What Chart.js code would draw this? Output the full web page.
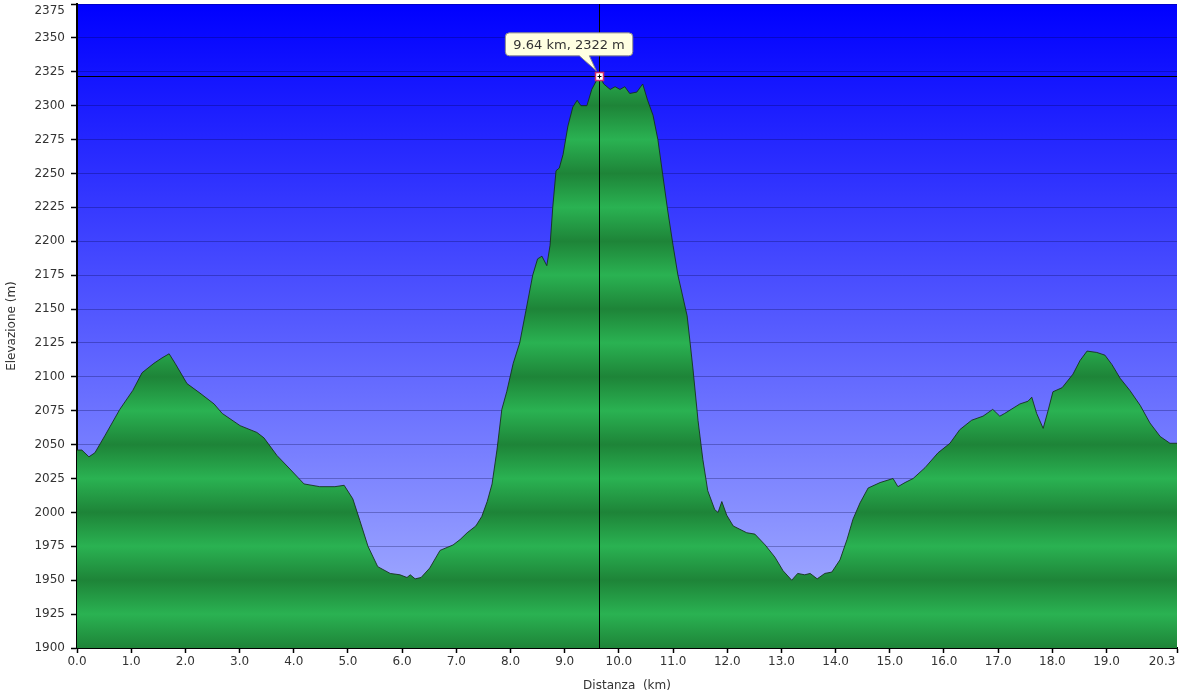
<!DOCTYPE html>
<html lang="it">
<head>
  <meta charset="UTF-8">
  <title>Profilo altimetrico</title>
  <script src="https://cdn.jsdelivr.net/npm/chart.js"></script>
  <style>
    html, body { margin: 0; padding: 0; background: #fff; }
    #wrap { width: 1183px; height: 699px; }
  </style>
</head>
<body>
  <div id="wrap"><canvas id="profileChart" width="1183" height="699"></canvas></div>

  <script>
    // distance along the track (km)
    const distKm = [
      0.00, 0.09, 0.22, 0.33, 0.52, 0.79, 1.03, 1.20, 1.42, 1.57,
      1.70, 1.81, 2.03, 2.27, 2.53, 2.68, 3.01, 3.32, 3.45, 3.69,
      3.93, 4.19, 4.48, 4.76, 4.93, 5.09, 5.22, 5.37, 5.55, 5.78,
      5.96, 6.09, 6.15, 6.24, 6.35, 6.51, 6.70, 6.94, 7.07, 7.20,
      7.36, 7.47, 7.57, 7.66, 7.75, 7.84, 7.93, 8.05, 8.17, 8.29,
      8.41, 8.50, 8.58, 8.67, 8.73, 8.78, 8.84, 8.90, 8.97, 9.06,
      9.15, 9.23, 9.30, 9.41, 9.50, 9.58, 9.64, 9.72, 9.84, 9.93,
      10.02, 10.11, 10.20, 10.33, 10.44, 10.53, 10.63, 10.72, 10.81, 10.90,
      11.00, 11.09, 11.26, 11.37, 11.46, 11.55, 11.64, 11.77, 11.83, 11.90,
      11.99, 12.11, 12.36, 12.51, 12.70, 12.88, 13.03, 13.19, 13.30, 13.43,
      13.53, 13.66, 13.80, 13.93, 14.08, 14.21, 14.32, 14.45, 14.60, 14.82,
      15.06, 15.15, 15.28, 15.43, 15.65, 15.89, 16.11, 16.29, 16.51, 16.72,
      16.90, 17.03, 17.12, 17.40, 17.55, 17.62, 17.71, 17.83, 17.92, 18.01,
      18.18, 18.38, 18.51, 18.64, 18.82, 18.97, 19.10, 19.25, 19.43, 19.62,
      19.80, 19.99, 20.17, 20.30
    ];

    // elevation (m)
    const elevM = [
      2046, 2046, 2041, 2044, 2057, 2076, 2090, 2103, 2110, 2114,
      2117, 2110, 2095, 2088, 2080, 2073, 2064, 2059, 2055, 2042,
      2032, 2021, 2019, 2019, 2020, 2010, 1994, 1975, 1960, 1955,
      1954, 1952, 1954, 1951, 1952, 1959, 1972, 1976, 1980, 1985,
      1990, 1997, 2008, 2021, 2046, 2076, 2089, 2110, 2125, 2150,
      2175, 2187, 2189, 2182, 2197, 2225, 2252, 2254, 2264, 2285,
      2299, 2304, 2300, 2300, 2312, 2318, 2322, 2316, 2312, 2314,
      2312, 2314, 2309, 2310, 2316, 2304, 2293, 2275, 2249, 2223,
      2197, 2175, 2145, 2105, 2068, 2039, 2016, 2002, 2000, 2008,
      1998, 1990, 1985, 1984, 1976, 1967, 1957, 1950, 1955, 1954,
      1955, 1951, 1955, 1956, 1965, 1980, 1995, 2007, 2018, 2022,
      2025, 2019, 2022, 2025, 2033, 2044, 2051, 2061, 2068, 2071,
      2076, 2071, 2073, 2080, 2082, 2085, 2073, 2062, 2075, 2089,
      2092, 2102, 2112, 2119, 2118, 2116, 2109, 2099, 2090, 2079,
      2066, 2056, 2051, 2051
    ];

    // axis ticks
    const xTickValues = [0, 1, 2, 3, 4, 5, 6, 7, 8, 9, 10, 11, 12, 13, 14, 15, 16, 17, 18, 19, 20.3];
    const yMin = 1900, yMax = 2375, yStep = 25;

    // highlighted point (crosshair)
    const markKm = 9.64;
    const markElev = 2322;
    const markLabel = '9.64 km, 2322 m';

    const FONT = "'DejaVu Sans', Verdana, sans-serif";

    // sky gradient behind the plot
    const skyPlugin = {
      id: 'sky',
      beforeDraw(chart) {
        const { ctx, chartArea: a } = chart;
        const g = ctx.createLinearGradient(0, a.top, 0, a.bottom);
        g.addColorStop(0, 'rgb(0,0,255)');
        g.addColorStop(1, 'rgb(172,182,255)');
        ctx.save();
        ctx.fillStyle = g;
        ctx.fillRect(a.left, a.top, a.right - a.left, a.bottom - a.top);
        ctx.restore();
      }
    };

    // striped green fill, dark on every 50 m line, light on the odd 25 m lines
    function groundFill(context) {
      const chart = context.chart;
      const a = chart.chartArea;
      if (!a) return 'rgb(40,170,78)';
      const y = chart.scales.y;
      const g = chart.ctx.createLinearGradient(0, a.top, 0, a.bottom);
      const span = a.bottom - a.top;
      for (let v = yMin; v <= yMax; v += yStep) {
        const t = (y.getPixelForValue(v) - a.top) / span;
        const dark = (v % 50) === 0;
        g.addColorStop(Math.min(Math.max(t, 0), 1), dark ? 'rgb(30,132,56)' : 'rgb(42,178,82)');
      }
      return g;
    }

    // crosshair, marker and callout on the top point
    const crossPlugin = {
      id: 'cross',
      afterDraw(chart) {
        const { ctx, chartArea: a, scales } = chart;
        const px = scales.x.getPixelForValue(markKm);
        const py = scales.y.getPixelForValue(markElev);
        ctx.save();
        ctx.strokeStyle = '#000';
        ctx.lineWidth = 1;
        ctx.beginPath();
        ctx.moveTo(Math.round(px) + 0.5, a.top);
        ctx.lineTo(Math.round(px) + 0.5, a.bottom);
        ctx.moveTo(a.left, Math.round(py) + 0.5);
        ctx.lineTo(a.right, Math.round(py) + 0.5);
        ctx.stroke();

        // marker
        const mx = Math.round(px) + 0.5, my = Math.round(py) + 0.5;
        ctx.fillStyle = '#fff';
        ctx.fillRect(mx - 4, my - 4, 8, 8);
        ctx.strokeStyle = '#d0306a';
        ctx.lineWidth = 1.5;
        ctx.strokeRect(mx - 4, my - 4, 8, 8);
        ctx.strokeStyle = '#000';
        ctx.lineWidth = 1;
        ctx.beginPath();
        ctx.moveTo(mx - 2, my); ctx.lineTo(mx + 2, my);
        ctx.moveTo(mx, my - 2); ctx.lineTo(mx, my + 2);
        ctx.stroke();

        // callout
        ctx.font = '13px ' + FONT;
        const tw = ctx.measureText(markLabel).width;
        const bx = px - 94, by = py - 43, bw = tw + 16, bh = 23, r = 4;
        ctx.beginPath();
        ctx.moveTo(bx + r, by);
        ctx.lineTo(bx + bw - r, by);
        ctx.quadraticCurveTo(bx + bw, by, bx + bw, by + r);
        ctx.lineTo(bx + bw, by + bh - r);
        ctx.quadraticCurveTo(bx + bw, by + bh, bx + bw - r, by + bh);
        ctx.lineTo(px - 10, by + bh);
        ctx.lineTo(px - 3, py - 5);
        ctx.lineTo(px - 20, by + bh);
        ctx.lineTo(bx + r, by + bh);
        ctx.quadraticCurveTo(bx, by + bh, bx, by + bh - r);
        ctx.lineTo(bx, by + r);
        ctx.quadraticCurveTo(bx, by, bx + r, by);
        ctx.closePath();
        ctx.fillStyle = '#ffffe1';
        ctx.fill();
        ctx.strokeStyle = '#8a8a8a';
        ctx.lineWidth = 1;
        ctx.stroke();
        ctx.fillStyle = '#333';
        ctx.textBaseline = 'middle';
        ctx.textAlign = 'left';
        ctx.fillText(markLabel, bx + 8, by + bh / 2 + 1);
        ctx.restore();
      }
    };

    const ctx = document.getElementById('profileChart').getContext('2d');
    const profileChart = new Chart(ctx, {
      type: 'line',
      data: {
        datasets: [{
          data: distKm.map((d, i) => ({ x: d, y: elevM[i] })),
          borderColor: 'rgba(20,45,25,0.85)',
          borderWidth: 1,
          backgroundColor: groundFill,
          fill: 'start',
          pointRadius: 0,
          tension: 0
        }]
      },
      options: {
        responsive: false,
        animation: false,
        layout: { padding: { top: 4, right: 6, left: 0, bottom: 0 } },
        plugins: {
          legend: { display: false },
          tooltip: { enabled: false }
        },
        scales: {
          x: {
            type: 'linear',
            min: 0,
            max: 20.3,
            afterBuildTicks(scale) {
              scale.ticks = xTickValues.map(v => ({ value: v }));
            },
            afterFit(scale) {
              scale.height = 51;
              scale.paddingLeft = 0;
              scale.paddingRight = 0;
            },
            grid: {
              drawOnChartArea: false,
              drawTicks: true,
              tickLength: 5,
              tickColor: '#000',
              tickWidth: 1.5
            },
            border: { color: '#000', width: 2 },
            ticks: {
              autoSkip: false,
              maxRotation: 0,
              padding: 2,
              color: '#333',
              font: { family: FONT, size: 12 },
              // last label sits left of its tick so it stays inside the canvas
              callback: (v, i, all) => i === all.length - 1
                ? Number(v).toFixed(1) + '\u2003\u2003\u2002'
                : Number(v).toFixed(1)
            },
            title: {
              display: true,
              text: 'Distanza  (km)',
              color: '#333',
              font: { family: FONT, size: 12 },
              padding: { top: 2, bottom: 6 }
            }
          },
          y: {
            min: yMin,
            max: yMax,
            z: 1,
            afterFit(scale) {
              scale.width = 77;
              scale.paddingTop = 0;
              scale.paddingBottom = 0;
            },
            grid: {
              color: 'rgba(0,0,60,0.28)',
              lineWidth: 1,
              tickLength: 6,
              tickColor: '#000',
              tickWidth: 1.5
            },
            border: { color: '#000', width: 2 },
            ticks: {
              stepSize: yStep,
              padding: 6,
              color: '#333',
              font: { family: FONT, size: 12 },
              // top label hangs below its tick so it is not cut off
              callback: v => v === yMax ? ['', String(v)] : String(v)
            },
            title: {
              display: true,
              text: 'Elevazione (m)',
              color: '#333',
              font: { family: FONT, size: 12 },
              padding: { top: 5, bottom: 2 }
            }
          }
        }
      },
      plugins: [skyPlugin, crossPlugin]
    });
  </script>
</body>
</html>
